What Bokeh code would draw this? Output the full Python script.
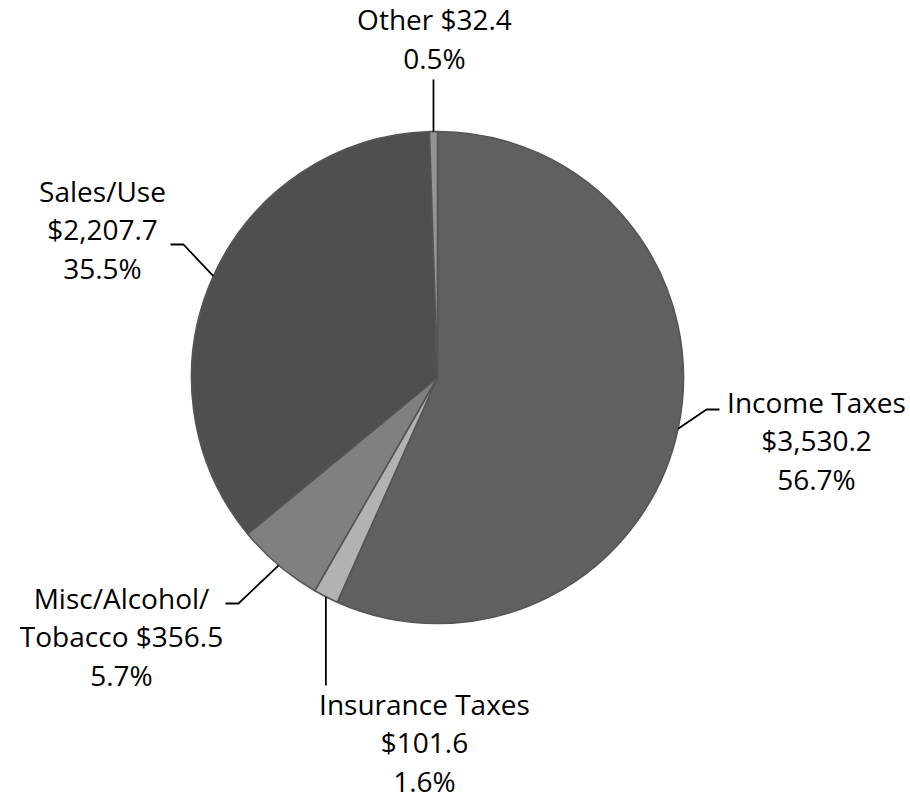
import math
from bokeh.plotting import figure
from bokeh.models import Range1d, ColumnDataSource
from bokeh.core.properties import value
from bokeh.embed import file_html
from bokeh.resources import INLINE

# ---- data, clockwise from 12 o'clock ----
categories = ["Income Taxes", "Insurance Taxes", "Misc/Alcohol/\nTobacco", "Sales/Use", "Other"]
amounts = [3530.2, 101.6, 356.5, 2207.7, 32.4]
percents = [56.7, 1.6, 5.7, 35.5, 0.5]
name_sep = ["\n", "\n", " ", "\n", " "]

# ---- styling / layout ----
colors = ["#606060", "#b2b2b2", "#808080", "#4f4f4f", "#959595"]
W, H = 910, 800


def Y(ry):
    # reference-pixel y (down) -> data y (up)
    return 800 - ry


CX, CY, R = 437, Y(377), 246
# label block centres and leader-line elbow/end points (reference pixels)
label_pos = [(816, 440), (424, 742), (121, 636), (102, 229), (434, 38)]
leader_elbow = [(706, 409), (None, 685), (238, 603), (183, 244), (None, 79)]
leader_end = [(719, 409), (None, 685), (225, 603), (170, 244), (None, 79)]

total = sum(amounts)
starts, ends, mids = [], [], []
cum = 0.0
for a in amounts:
    t0 = cum / total * 2 * math.pi
    cum += a
    t1 = cum / total * 2 * math.pi
    starts.append(math.pi / 2 - t1)
    ends.append(math.pi / 2 - t0)
    mids.append((t0 + t1) / 2)

labels = [f"{c}{s}${a:,.1f}\n{p_:.1f}%" for c, s, a, p_ in zip(categories, name_sep, amounts, percents)]

wedges = ColumnDataSource(dict(start=starts, end=ends, color=colors, name=categories))

xs, ys = [], []
for m, el, en in zip(mids, leader_elbow, leader_end):
    ex = CX + R * math.sin(m)
    ey = CY + R * math.cos(m)
    elx = ex if el[0] is None else el[0]
    enx = ex if en[0] is None else en[0]
    xs.append([ex, elx, enx])
    ys.append([ey, Y(el[1]), Y(en[1])])

p = figure(width=W, height=H, x_range=Range1d(0, W), y_range=Range1d(Y(H), Y(0)),
           x_axis_type=None, y_axis_type=None, output_backend="svg",
           toolbar_location=None, min_border=0)
p.grid.visible = False
p.outline_line_color = None
p.background_fill_color = "white"
p.border_fill_color = "white"

p.wedge(x=CX, y=CY, radius=R, start_angle="start", end_angle="end",
        fill_color="color", line_color="#555555", line_width=1.6, source=wedges)

p.multi_line(xs=xs, ys=ys, line_color="black", line_width=1.8)

p.text(x=[lp[0] for lp in label_pos], y=[Y(lp[1]) for lp in label_pos], text=labels,
       text_align="center", text_baseline="middle", text_font=value("Open Sans"),
       text_font_size="28px", text_line_height=1.02, text_color="black")

open("out.html", "w").write(file_html(p, INLINE))
